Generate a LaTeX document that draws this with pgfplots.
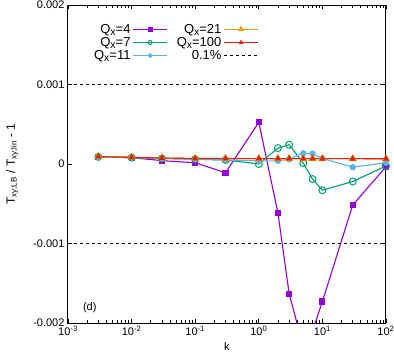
\documentclass[border=0pt]{standalone}
\usepackage{pgfplots}
\pgfplotsset{compat=1.18}
\usepackage{fontspec}
\setmainfont{Liberation Sans}

\definecolor{c4}{HTML}{9400D3}
\definecolor{c7}{HTML}{009E73}
\definecolor{c11}{HTML}{56B4E9}
\definecolor{c21}{HTML}{E69F00}
\definecolor{c100}{HTML}{E51E10}

\newcommand\sx{\raisebox{-0.3ex}{\fontsize{10.5}{11}\selectfont x}}

\pgfplotstableread{
k      q4        q7        q11       q21       q100
0.003  9.2e-5    9.0e-5    9.0e-5    9.5e-5    9.3e-5
0.01   8.0e-5    8.0e-5    8.0e-5    8.5e-5    8.3e-5
0.03   4.2e-5    7.0e-5    7.0e-5    7.5e-5    7.5e-5
0.1    1.6e-5    6.0e-5    6.0e-5    7.0e-5    7.0e-5
0.3    -1.1e-4   5.0e-5    5.0e-5    7.0e-5    6.8e-5
1      5.25e-4   0.0       4.0e-5    6.8e-5    6.8e-5
2      -6.16e-4  2.0e-4    4.0e-5    6.8e-5    6.8e-5
3      -1.63e-3  2.43e-4   6.0e-5    6.8e-5    6.8e-5
5      -2.3e-3   1.0e-5    1.35e-4   6.8e-5    6.8e-5
7      -2.1e-3   -1.9e-4   1.3e-4    6.8e-5    6.8e-5
10     -1.73e-3  -3.3e-4   7.0e-5    6.8e-5    6.7e-5
30     -5.16e-4  -2.2e-4   -4.0e-5   6.7e-5    6.7e-5
100    -3.4e-5   -2.5e-5   1.6e-5    6.6e-5    6.6e-5
}\datatable

\begin{document}
\begin{tikzpicture}
\useasboundingbox (-68pt,-34pt) rectangle (326pt,323pt);
\begin{axis}[
    at={(0pt,0pt)}, anchor=south west,
    scale only axis,
    width=318pt, height=318pt,
    xmode=log,
    xmin=1e-3, xmax=1e2,
    ymin=-0.002, ymax=0.002,
    scaled y ticks=false,
    xtick={1e-3,1e-2,1e-1,1,1e1,1e2},
    xticklabels={10\textsuperscript{-3},10\textsuperscript{-2},10\textsuperscript{-1},10\textsuperscript{0},10\textsuperscript{1},10\textsuperscript{2}},
    ytick={-0.002,-0.001,0,0.001,0.002},
    yticklabels={-0.002,-0.001,0,0.001,0.002},
    tick align=inside,
    tick style={black, line width=0.6pt},
    axis line style={line width=1pt},
    font=\fontsize{11}{13}\selectfont,
    xlabel={k},
    ylabel={T\textsubscript{xy;LB} / T\textsubscript{xy;lin} - 1},
    ylabel style={font=\fontsize{12}{14}\selectfont, yshift=8pt},
    legend plot pos=right,
    legend columns=2,
    legend cell align=right,
    legend style={draw=none, fill=none, at={(0.072,0.95)}, anchor=north west,
        font=\fontsize{13}{15}\selectfont, row sep=-1.5pt, inner sep=1pt,
        /tikz/every even column/.append style={column sep=7pt}},
    legend image code/.code={\draw[mark repeat=2,mark phase=2,#1] plot coordinates {(0cm,0cm)(0.6cm,0cm)(1.2cm,0cm)};},
]
\pgfplotsset{
    s4/.style={c4, line width=1.1pt, mark=square*, mark size=2.5pt, mark options={solid}},
    s7/.style={c7, line width=1.1pt, mark=o, mark size=3.5pt, mark options={solid, line width=1pt}},
    s11/.style={c11, line width=1.1pt, mark=*, mark size=2.6pt, mark options={solid}},
    s21/.style={c21, line width=1.1pt, mark=triangle*, mark size=3.6pt, mark options={solid}},
    s100/.style={c100, line width=1.1pt, mark=triangle*, mark size=2.6pt, mark options={solid}},
    sdash/.style={black, line width=1pt, dash pattern=on 3pt off 3pt},
}
\addlegendimage{s4, mark size=1.8pt}\addlegendentry{Q\sx=4}
\addlegendimage{s21, mark size=2.6pt}\addlegendentry{Q\sx=21}
\addlegendimage{s7, mark size=2pt}\addlegendentry{Q\sx=7}
\addlegendimage{s100, mark size=1.8pt}\addlegendentry{Q\sx=100}
\addlegendimage{s11, mark size=1.8pt}\addlegendentry{Q\sx=11}
\addlegendimage{sdash}\addlegendentry{0.1\%}

\addplot[s4, forget plot] table[x=k, y=q4] {\datatable};
\addplot[s7, forget plot] table[x=k, y=q7] {\datatable};
\addplot[s11, forget plot] table[x=k, y=q11] {\datatable};
\addplot[s21, forget plot] table[x=k, y=q21] {\datatable};
\addplot[s100, forget plot] table[x=k, y=q100] {\datatable};
\addplot[sdash, forget plot] coordinates {(1e-3,0.001) (1e2,0.001)};
\addplot[sdash, forget plot] coordinates {(1e-3,-0.001) (1e2,-0.001)};

\node[anchor=center] at (axis cs:0.0022,-0.00181) {(d)};
\end{axis}
\end{tikzpicture}
\end{document}
